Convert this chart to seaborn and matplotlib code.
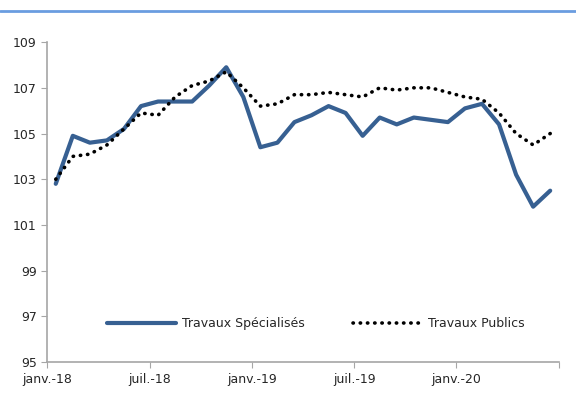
import pandas as pd
import matplotlib.pyplot as plt
from matplotlib.lines import Line2D
import seaborn as sns

sns.set_style('white')
plt.rcParams['font.family'] = ['DejaVu Sans']

# monthly index values, janv.-18 to juin-20
months = pd.date_range('2018-01-01', periods=30, freq='MS')
specialises = [102.8, 104.9, 104.6, 104.7, 105.2, 106.2, 106.4, 106.4, 106.4, 107.1,
               107.9, 106.6, 104.4, 104.6, 105.5, 105.8, 106.2, 105.9, 104.9, 105.7,
               105.4, 105.7, 105.6, 105.5, 106.1, 106.3, 105.4, 103.2, 101.8, 102.5]
publics = [103.0, 104.0, 104.1, 104.5, 105.2, 105.9, 105.8, 106.6, 107.1, 107.3,
           107.7, 107.0, 106.2, 106.3, 106.7, 106.7, 106.8, 106.7, 106.6, 107.0,
           106.9, 107.0, 107.0, 106.8, 106.6, 106.5, 105.9, 105.0, 104.5, 105.0]
tick_labels = ['janv.-18', 'juil.-18', 'janv.-19', 'juil.-19', 'janv.-20', '']

df = pd.DataFrame({'pos': range(len(months)),
                   'Travaux Spécialisés': specialises,
                   'Travaux Publics': publics})

fig = plt.figure(figsize=(5.76, 4.01), dpi=100)
ax = fig.add_axes([0.082, 0.097, 0.888, 0.798])

sns.lineplot(data=df, x='pos', y='Travaux Spécialisés', ax=ax, color='#376092',
             linewidth=3, label='Travaux Spécialisés')
sns.lineplot(data=df, x='pos', y='Travaux Publics', ax=ax, color='black',
             linewidth=2.6, linestyle=(0, (0.1, 1.9)), label='Travaux Publics')
ax.lines[1].set_dash_capstyle('round')

ax.set_xlim(-0.5, len(months) - 0.5)
ax.set_ylim(95, 109)
ax.set_yticks(range(95, 110, 2))
ax.set_xticks([i - 0.5 for i in range(0, 31, 6)])
ax.set_xticklabels(tick_labels)
ax.set_xlabel('')
ax.set_ylabel('')

for s in ['top', 'right']:
    ax.spines[s].set_visible(False)
for s in ['left', 'bottom']:
    ax.spines[s].set_color('#a6a6a6')
    ax.spines[s].set_linewidth(1.2)
ax.tick_params(axis='both', which='both', length=4, color='#a6a6a6',
               labelsize=9, direction='out', left=True, bottom=True)

ax.legend(loc='lower center', bbox_to_anchor=(0.525, 0.065), ncol=2, frameon=False,
          fontsize=9, handlelength=5.5, columnspacing=3.8, handletextpad=0.5)
for h in ax.get_legend().get_lines():
    h.set_dash_capstyle('round')

# blue rule at the top of the figure
fig.add_artist(Line2D([0, 1], [0.973, 0.973], transform=fig.transFigure,
                      color='#6a9de0', linewidth=2))

plt.savefig('out.png', dpi=100)
